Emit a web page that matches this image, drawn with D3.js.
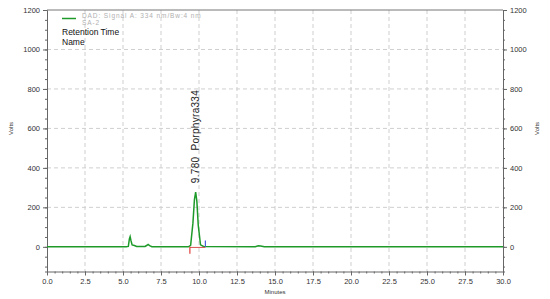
<!DOCTYPE html>
<html>
<head>
<meta charset="utf-8">
<script src="https://cdn.jsdelivr.net/npm/d3@7"></script>
<style>
  body { margin: 0; background: #fff; }
  svg { display: block; font-family: "Liberation Sans", Arial, sans-serif; }
</style>
</head>
<body>
<script>
// chromatogram trace
const traceTime = [0, 5.2, 5.35, 5.42, 5.47, 5.53, 5.6, 5.75, 5.9, 6.45, 6.58, 6.65, 6.75, 6.9,
                   9.3, 9.45, 9.6, 9.7, 9.78, 9.86, 9.95, 10.1, 10.3, 13.7, 13.9, 14.05, 14.3, 30];
const traceVal = [0, 0, 2, 40, 52, 30, 10, 7, 2, 2, 8, 12, 6, 1,
                  0, 8, 120, 240, 277, 230, 110, 10, 2, 0, 5, 4, 0, 0];

const xTicks = [0, 2.5, 5, 7.5, 10, 12.5, 15, 17.5, 20, 22.5, 25, 27.5, 30];
const yTicks = [0, 200, 400, 600, 800, 1000, 1200];

// integration marks for the peak
const peakLabel = "9.780  Porphyra334";
const peakTime = 9.78, peakHeight = 277;
const baseStart = [9.4, -35], baseEnd = [10.42, 32];

const W = 550, H = 299;
const mLeft = 47, mRight = 503, mTop = 10, mBottom = 271.5;

const x = d3.scaleLinear().domain([0, 30]).range([mLeft, mRight]);
const y = d3.scaleLinear().domain([-125, 1200]).range([mBottom, mTop]);

const svg = d3.select("body").append("svg").attr("width", W).attr("height", H);

// grid
svg.append("g").selectAll("line").data(xTicks.slice(1, -1)).join("line")
  .attr("x1", d => x(d)).attr("x2", d => x(d)).attr("y1", mTop).attr("y2", mBottom)
  .attr("stroke", "#cfcfcf").attr("stroke-dasharray", "4,3");
svg.append("g").selectAll("line").data(yTicks.slice(1, -1)).join("line")
  .attr("x1", mLeft).attr("x2", mRight).attr("y1", d => y(d)).attr("y2", d => y(d))
  .attr("stroke", "#cfcfcf").attr("stroke-dasharray", "4,3");

// top border
svg.append("line").attr("x1", mLeft).attr("x2", mRight).attr("y1", mTop).attr("y2", mTop)
  .attr("stroke", "#777");

function styleAxis(g) {
  g.selectAll("path, line").attr("stroke", "#666");
  g.selectAll("text").attr("fill", "#333").style("font-size", "7.5px");
}

const yMinor = d3.range(-100, 1201, 50);
const xMinor = d3.range(0, 30.01, 0.5);

svg.append("g").attr("transform", `translate(${mLeft},0)`)
  .call(d3.axisLeft(y).tickValues(yMinor).tickSize(2).tickFormat(""))
  .call(styleAxis);
svg.append("g").attr("transform", `translate(${mLeft},0)`)
  .call(d3.axisLeft(y).tickValues(yTicks).tickSize(4).tickPadding(3).tickFormat(d3.format("d")))
  .call(styleAxis).select(".domain").remove();

svg.append("g").attr("transform", `translate(${mRight},0)`)
  .call(d3.axisRight(y).tickValues(yMinor).tickSize(2).tickFormat(""))
  .call(styleAxis);
svg.append("g").attr("transform", `translate(${mRight},0)`)
  .call(d3.axisRight(y).tickValues(yTicks).tickSize(4).tickPadding(3).tickFormat(d3.format("d")))
  .call(styleAxis).select(".domain").remove();

svg.append("g").attr("transform", `translate(0,${mBottom})`)
  .call(d3.axisBottom(x).tickValues(xMinor).tickSize(2).tickFormat(""))
  .call(styleAxis);
svg.append("g").attr("transform", `translate(0,${mBottom})`)
  .call(d3.axisBottom(x).tickValues(xTicks).tickSize(4).tickPadding(3).tickFormat(d3.format(".1f")))
  .call(styleAxis).select(".domain").remove();

// axis titles
svg.append("text").attr("transform", `translate(13,${y(600)}) rotate(-90)`)
  .attr("text-anchor", "middle").style("font-size", "6px").attr("fill", "#333").text("Volts");
svg.append("text").attr("transform", `translate(539,${y(600)}) rotate(-90)`)
  .attr("text-anchor", "middle").style("font-size", "6px").attr("fill", "#333").text("Volts");
svg.append("text").attr("x", 275).attr("y", 294)
  .attr("text-anchor", "middle").style("font-size", "6px").attr("fill", "#333").text("Minutes");

// trace
const pts = traceTime.map((t, i) => [t, traceVal[i]]);
svg.append("path").datum(pts)
  .attr("fill", "none").attr("stroke", "#1e9a2a").attr("stroke-width", 1.5)
  .attr("d", d3.line().x(d => x(d[0])).y(d => y(d[1])));

// baseline markers
svg.append("line").attr("x1", x(baseStart[0])).attr("x2", x(baseEnd[0]))
  .attr("y1", y(-3)).attr("y2", y(-3)).attr("stroke", "#d9534f").attr("stroke-width", 1);
svg.append("line").attr("x1", x(baseStart[0])).attr("x2", x(baseStart[0]))
  .attr("y1", y(0)).attr("y2", y(baseStart[1])).attr("stroke", "#e0403a").attr("stroke-width", 1.2);
svg.append("line").attr("x1", x(baseEnd[0])).attr("x2", x(baseEnd[0]))
  .attr("y1", y(0)).attr("y2", y(baseEnd[1])).attr("stroke", "#4a5ee0").attr("stroke-width", 1.2);

// peak label
svg.append("text")
  .attr("transform", `translate(${x(peakTime) + 3.5},${y(peakHeight) - 9}) rotate(-90)`)
  .style("font-size", "10px").style("letter-spacing", "0.3px").attr("fill", "#222")
  .attr("xml:space", "preserve")
  .text(peakLabel);

// legend
svg.append("line").attr("x1", 62).attr("x2", 76).attr("y1", 18.5).attr("y2", 18.5)
  .attr("stroke", "#1e9a2a").attr("stroke-width", 1.5);
svg.append("text").attr("x", 82).attr("y", 18).style("font-size", "6.5px")
  .style("letter-spacing", "0.9px").attr("fill", "#b0b0b0")
  .text("DAD: Signal A: 334 nm/Bw:4 nm");
svg.append("text").attr("x", 82).attr("y", 25).style("font-size", "6.5px")
  .style("letter-spacing", "0.9px").attr("fill", "#b0b0b0")
  .text("SA-2");
svg.append("text").attr("x", 62).attr("y", 35).style("font-size", "8.5px").attr("fill", "#111")
  .text("Retention Time");
svg.append("text").attr("x", 62).attr("y", 44.5).style("font-size", "8.5px").attr("fill", "#111")
  .text("Name");
</script>
</body>
</html>
